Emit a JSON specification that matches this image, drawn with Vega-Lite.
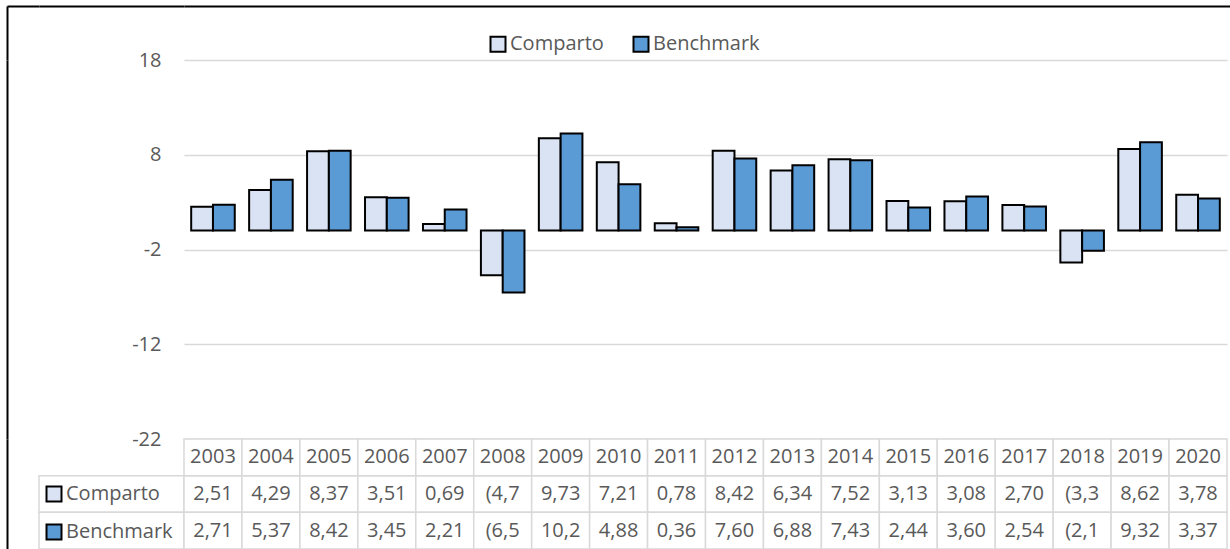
{
  "$schema": "https://vega.github.io/schema/vega-lite/v6.json",
  "padding": {"left": 6, "top": 5, "right": 0, "bottom": 0},
  "background": "white",
  "columns": 2,
  "spacing": 0,
  "bounds": "flush",
  "align": "each",
  "config": {
    "view": {"stroke": null},
    "font": "Open Sans",
    "axis": {"labelFont": "Open Sans"},
    "legend": {"labelFont": "Open Sans"}
  },
  "datasets": {
    "d": [
      {"year": "2003", "series": "Comparto", "value": 2.51, "label": "2,51"},
      {"year": "2004", "series": "Comparto", "value": 4.29, "label": "4,29"},
      {"year": "2005", "series": "Comparto", "value": 8.37, "label": "8,37"},
      {"year": "2006", "series": "Comparto", "value": 3.51, "label": "3,51"},
      {"year": "2007", "series": "Comparto", "value": 0.69, "label": "0,69"},
      {"year": "2008", "series": "Comparto", "value": -4.72, "label": "(4,7"},
      {"year": "2009", "series": "Comparto", "value": 9.73, "label": "9,73"},
      {"year": "2010", "series": "Comparto", "value": 7.21, "label": "7,21"},
      {"year": "2011", "series": "Comparto", "value": 0.78, "label": "0,78"},
      {"year": "2012", "series": "Comparto", "value": 8.42, "label": "8,42"},
      {"year": "2013", "series": "Comparto", "value": 6.34, "label": "6,34"},
      {"year": "2014", "series": "Comparto", "value": 7.52, "label": "7,52"},
      {"year": "2015", "series": "Comparto", "value": 3.13, "label": "3,13"},
      {"year": "2016", "series": "Comparto", "value": 3.08, "label": "3,08"},
      {"year": "2017", "series": "Comparto", "value": 2.70, "label": "2,70"},
      {"year": "2018", "series": "Comparto", "value": -3.36, "label": "(3,3"},
      {"year": "2019", "series": "Comparto", "value": 8.62, "label": "8,62"},
      {"year": "2020", "series": "Comparto", "value": 3.78, "label": "3,78"},
      {"year": "2003", "series": "Benchmark", "value": 2.71, "label": "2,71"},
      {"year": "2004", "series": "Benchmark", "value": 5.37, "label": "5,37"},
      {"year": "2005", "series": "Benchmark", "value": 8.42, "label": "8,42"},
      {"year": "2006", "series": "Benchmark", "value": 3.45, "label": "3,45"},
      {"year": "2007", "series": "Benchmark", "value": 2.21, "label": "2,21"},
      {"year": "2008", "series": "Benchmark", "value": -6.55, "label": "(6,5"},
      {"year": "2009", "series": "Benchmark", "value": 10.25, "label": "10,2"},
      {"year": "2010", "series": "Benchmark", "value": 4.88, "label": "4,88"},
      {"year": "2011", "series": "Benchmark", "value": 0.36, "label": "0,36"},
      {"year": "2012", "series": "Benchmark", "value": 7.60, "label": "7,60"},
      {"year": "2013", "series": "Benchmark", "value": 6.88, "label": "6,88"},
      {"year": "2014", "series": "Benchmark", "value": 7.43, "label": "7,43"},
      {"year": "2015", "series": "Benchmark", "value": 2.44, "label": "2,44"},
      {"year": "2016", "series": "Benchmark", "value": 3.60, "label": "3,60"},
      {"year": "2017", "series": "Benchmark", "value": 2.54, "label": "2,54"},
      {"year": "2018", "series": "Benchmark", "value": -2.12, "label": "(2,1"},
      {"year": "2019", "series": "Benchmark", "value": 9.32, "label": "9,32"},
      {"year": "2020", "series": "Benchmark", "value": 3.37, "label": "3,37"}
    ],
    "rows": [
      {"row": "Comparto"},
      {"row": "Benchmark"}
    ]
  },
  "concat": [
    {
      "width": 145, "height": 54,
      "data": {"values": []},
      "mark": {"type": "point"},
      "encoding": {
        "x": {"field": "u", "type": "quantitative", "scale": {"domain": [0, 1]},
              "axis": {"orient": "top", "domain": true, "domainColor": "black", "domainWidth": 2, "ticks": false, "labels": false, "grid": false, "title": null}},
        "y": {"field": "v", "type": "quantitative", "scale": {"domain": [0, 1]},
              "axis": {"orient": "left", "offset": 32, "domain": true, "domainColor": "black", "domainWidth": 2, "values": [1], "ticks": true, "tickSize": -32, "tickColor": "black", "tickWidth": 2, "labels": false, "grid": false, "title": null}}
      }
    },
    {
      "width": 1046, "height": 54,
      "data": {"values": []},
      "mark": {"type": "point"},
      "encoding": {
        "x": {"field": "u", "type": "quantitative", "scale": {"domain": [0, 1]},
              "axis": {"orient": "top", "domain": true, "domainColor": "black", "domainWidth": 2, "ticks": false, "labels": false, "grid": false, "title": null}}
      }
    },
    {
      "width": 145, "height": 379,
      "data": {"values": []},
      "mark": {"type": "point"},
      "encoding": {
        "y": {"field": "v", "type": "quantitative", "scale": {"domain": [0, 1]},
              "axis": {"orient": "left", "offset": 32, "domain": true, "domainColor": "black", "domainWidth": 2, "ticks": false, "labels": false, "grid": false, "title": null}}
      }
    },
    {
      "width": 1043, "height": 379,
      "data": {"name": "d"},
      "mark": {"type": "bar", "stroke": "black", "strokeWidth": 2},
      "encoding": {
        "x": {"field": "year", "type": "nominal", "scale": {"paddingInner": 0, "paddingOuter": 0}, "axis": null},
        "xOffset": {"field": "series", "type": "nominal", "scale": {"domain": ["Comparto", "Benchmark"], "paddingInner": 0, "paddingOuter": 0.33}},
        "y": {"field": "value", "type": "quantitative", "scale": {"domain": [-22, 18], "nice": false},
              "axis": {"values": [-22, -12, -2, 8, 18], "labelExpr": "'' + datum.value", "grid": true, "gridColor": "#d9d9d9", "gridWidth": 1.5, "domain": false, "ticks": false, "labelFontSize": 20, "labelColor": "#595959", "labelPadding": 23, "title": null}},
        "color": {"field": "series", "type": "nominal",
                  "scale": {"domain": ["Comparto", "Benchmark"], "range": ["#dae3f3", "#5b9bd5"]},
                  "legend": {"orient": "none", "legendX": 449, "legendY": 28, "direction": "horizontal", "title": null, "symbolType": "square", "symbolSize": 225, "symbolStrokeColor": "black", "symbolStrokeWidth": 2, "symbolOpacity": 1, "labelFontSize": 20, "labelColor": "#595959", "columnPadding": 25, "labelOffset": 2, "padding": 0}}
      }
    },
    {
      "width": 145, "height": 110,
      "data": {"name": "rows"},
      "layer": [
        {
          "mark": {"type": "rect", "fill": "white", "stroke": "#d9d9d9", "strokeWidth": 1.5},
          "encoding": {
            "y": {"field": "row", "type": "nominal", "scale": {"domain": ["header", "Comparto", "Benchmark"], "paddingInner": 0, "paddingOuter": 0},
                  "axis": {"orient": "left", "offset": 32, "domain": true, "domainColor": "black", "domainWidth": 2, "ticks": false, "labels": false, "grid": false, "title": null}}
          }
        },
        {
          "mark": {"type": "point", "shape": "square", "filled": true, "opacity": 0},
          "encoding": {
            "y": {"field": "row", "type": "nominal"},
            "fill": {"field": "row", "type": "nominal", "sort": ["Comparto", "Benchmark"],
                     "scale": {"range": ["#dae3f3", "#5b9bd5"]},
                     "legend": {"orient": "none", "legendX": 5, "legendY": 478, "direction": "vertical", "title": null, "symbolType": "square", "symbolSize": 225, "symbolStrokeColor": "black", "symbolStrokeWidth": 2, "symbolOpacity": 1, "labelFontSize": 20, "labelColor": "#595959", "rowPadding": 14, "labelOffset": 2, "padding": 0}}
          }
        }
      ]
    },
    {
      "width": 1043, "height": 110,
      "data": {"name": "d"},
      "layer": [
        {
          "mark": {"type": "rect", "fill": "white", "stroke": "#d9d9d9", "strokeWidth": 1.5},
          "encoding": {
            "x": {"field": "year", "type": "nominal", "scale": {"paddingInner": 0, "paddingOuter": 0}, "axis": null},
            "y": {"field": "series", "type": "nominal", "scale": {"domain": ["header", "Comparto", "Benchmark"], "paddingInner": 0, "paddingOuter": 0}, "axis": null}
          }
        },
        {
          "transform": [{"filter": "datum.series == 'Comparto'"}],
          "mark": {"type": "rect", "fill": "white", "stroke": "#d9d9d9", "strokeWidth": 1.5},
          "encoding": {
            "x": {"field": "year", "type": "nominal"},
            "y": {"datum": "header", "type": "nominal"}
          }
        },
        {
          "transform": [{"filter": "datum.series == 'Comparto'"}],
          "mark": {"type": "text", "fontSize": 20, "color": "#595959"},
          "encoding": {
            "x": {"field": "year", "type": "nominal"},
            "y": {"datum": "header", "type": "nominal"},
            "text": {"field": "year"}
          }
        },
        {
          "mark": {"type": "text", "fontSize": 20, "color": "#595959"},
          "encoding": {
            "x": {"field": "year", "type": "nominal"},
            "y": {"field": "series", "type": "nominal"},
            "text": {"field": "label"}
          }
        }
      ]
    }
  ]
}
